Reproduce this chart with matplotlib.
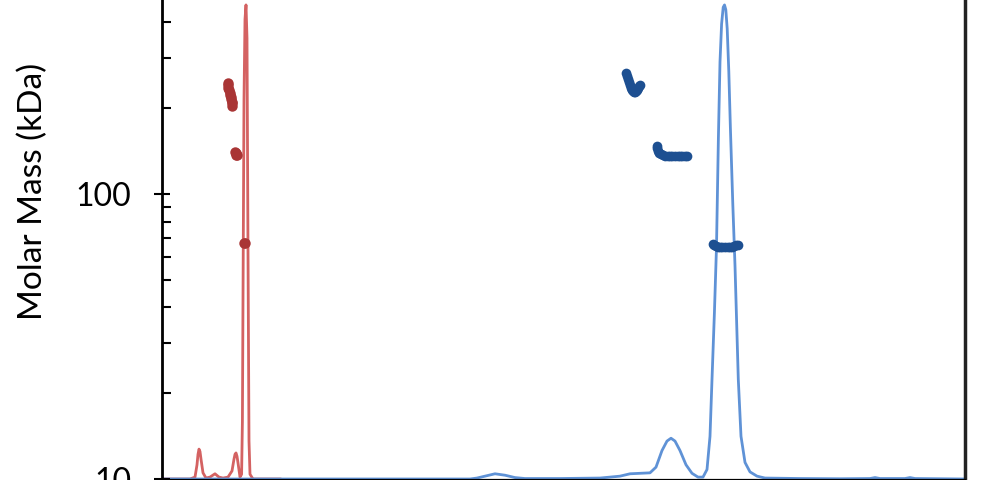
import matplotlib.pyplot as plt
from matplotlib.ticker import LogLocator, NullFormatter

plt.rcParams['font.family'] = ['Lato', 'DejaVu Sans']

# ---------------------------
# Chromatogram traces (elution, normalised signal)
# ---------------------------
red_x = [4.05, 4.75, 4.875, 4.925, 4.95, 4.975, 5.0, 5.025, 5.075, 5.15, 5.25, 5.375,
         5.475, 5.575, 5.70, 5.80, 5.85, 5.875, 5.90, 5.925, 5.95, 6.0, 6.04, 6.06, 6.075,
         6.10, 6.125, 6.15, 6.175, 6.20, 6.225, 6.25, 6.325, 7.0]
red_y = [0.0, 0.0, 0.004, 0.03, 0.052, 0.063, 0.058, 0.042, 0.013, 0.002, 0.004, 0.011,
         0.004, 0.002, 0.004, 0.017, 0.042, 0.052, 0.055, 0.048, 0.034, 0.004, 0.01, 0.12, 0.38,
         0.80, 0.97, 1.0, 0.93, 0.48, 0.08, 0.01, 0.0, 0.0]

blue_x = [4.05, 11.75, 11.925, 12.125, 12.375, 12.625, 12.875, 13.125, 14.0, 15.0, 15.5,
          15.75, 16.0, 16.25, 16.4, 16.55, 16.675, 16.775, 16.875, 17.0, 17.15, 17.3,
          17.45, 17.575, 17.675, 17.75, 17.80, 17.86, 17.9125, 17.96, 18.0, 18.04,
          18.08, 18.1125, 18.145, 18.18, 18.22, 18.26, 18.32, 18.375, 18.4575, 18.525,
          18.625, 18.75, 18.925, 19.125, 20.0, 21.0, 21.75, 21.875, 22.0, 22.625, 22.75,
          22.875, 24.125]
blue_y = [0.0, 0.0, 0.002, 0.006, 0.011, 0.008, 0.003, 0.001, 0.001, 0.002, 0.006,
          0.011, 0.012, 0.013, 0.025, 0.06, 0.08, 0.086, 0.08, 0.06, 0.03, 0.012,
          0.004, 0.004, 0.02, 0.09, 0.21, 0.35, 0.49, 0.72, 0.88, 0.96,
          0.995, 1.0, 0.99, 0.95, 0.86, 0.74, 0.58, 0.45, 0.21, 0.09,
          0.035, 0.015, 0.006, 0.002, 0.001, 0.0005, 0.001, 0.003, 0.001, 0.001, 0.003,
          0.001, 0.0]

# ---------------------------
# Molar mass points (kDa)
# ---------------------------
red_mm_x = [5.69, 5.70, 5.71, 5.725, 5.74, 5.75, 5.765, 5.775, 5.79, 5.80, 5.80,
            5.87, 5.89, 5.91, 5.93, 6.10, 6.125]
red_mm_y = [246.0, 241.3, 236.0, 231.7, 226.0, 222.6, 218.5, 215.4, 211.0, 208.6, 203.6,
            140.0, 138.9, 137.5, 136.5, 67.3, 67.3]

blue_mm_x = [15.66, 15.68, 15.70, 15.725, 15.75, 15.775, 15.80, 15.825, 15.85, 15.875,
             15.90, 15.925, 15.95, 15.975, 16.0,
             16.42, 16.43, 16.45, 16.48, 16.525, 16.575, 16.625, 16.69, 16.75, 16.81,
             16.875, 16.94, 17.0, 17.06, 17.125, 17.175,
             17.825, 17.86, 17.9, 17.95, 18.0, 18.06, 18.125, 18.19, 18.25, 18.30,
             18.35, 18.40, 18.45]
blue_mm_y = [265.9, 259.5, 253.3, 247.2, 241.3, 236.0, 231.7, 229.0, 228.0, 228.5,
             229.8, 232.5, 235.5, 238.5, 241.3,
             147.4, 144.5, 141.5, 139.6, 138.1, 137.0, 135.9, 135.9, 135.9, 135.6,
             135.4, 135.4, 135.4, 135.4, 135.4, 135.9,
             66.8, 66.2, 65.7, 65.4, 65.2, 65.2, 65.2, 65.2, 65.2, 65.4,
             65.7, 66.0, 66.2]

fig = plt.figure(figsize=(10.05, 4.8), dpi=100)
ax = fig.add_axes([162 / 1005, 1 / 480, 803 / 1005, 506.8 / 480])
ax2 = ax.twinx()

ax2.plot(red_x, red_y, color='#d46262', linewidth=2)
ax2.plot(blue_x, blue_y, color='#5f92d6', linewidth=2)
ax2.set_ylim(0, 1.069)
ax2.set_yticks([])
ax2.spines['right'].set_linewidth(2.5)
ax2.spines['right'].set_color('#222222')

ax.set_zorder(ax2.get_zorder() + 1)
ax.patch.set_visible(False)

ax.plot(red_mm_x, red_mm_y, 'o', color='#a93535', markersize=7.5, markeredgewidth=0)
ax.plot(blue_mm_x, blue_mm_y, 'o', color='#1d4f91', markersize=7, markeredgewidth=0)

ax.set_yscale('log')
ax.set_ylim(10, 600)
ax.set_xlim(4.05, 24.125)
ax.set_xticks([])
ax.yaxis.set_major_locator(LogLocator(base=10))
ax.yaxis.set_minor_locator(LogLocator(base=10, subs=range(2, 10)))
ax.yaxis.set_minor_formatter(NullFormatter())
ax.set_yticks([10, 100])
ax.set_yticklabels(['10', '100'])
ax.tick_params(axis='y', which='major', direction='inout', length=12, width=1.5,
               labelsize=23, pad=16)
ax.tick_params(axis='y', which='minor', direction='in', length=6.5, width=1.5)
ax.spines['left'].set_linewidth(2)
ax.spines['right'].set_visible(False)
ax.set_ylabel('Molar Mass (kDa)', fontsize=24)
ax.yaxis.set_label_coords(-0.142, 0.568)

plt.savefig('out.png', dpi=100)
